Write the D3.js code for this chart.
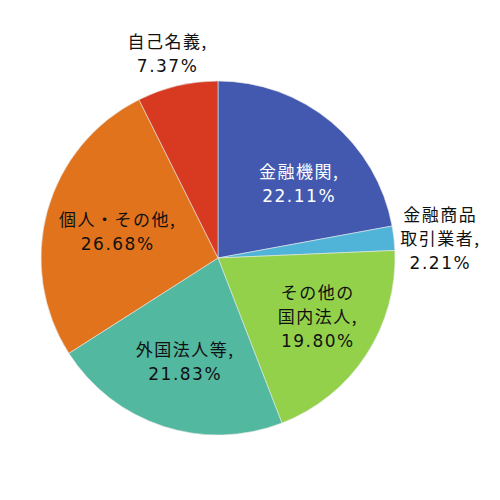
<!DOCTYPE html>
<html>
<head>
<meta charset="utf-8">
<script src="https://cdn.jsdelivr.net/npm/d3@7"></script>
<style>
  body { margin: 0; background: #fff; }
  text { font-family: "Noto Sans CJK JP", "Noto Sans", sans-serif; }
  .num { font-family: "DejaVu Sans", "Noto Sans", sans-serif; }
</style>
</head>
<body>
<div id="pie"></div>
<script>
// shareholder categories, clockwise from 12 o'clock
const categories = ["金融機関", "金融商品取引業者", "その他の国内法人", "外国法人等", "個人・その他", "自己名義"];
const shares = [22.11, 2.21, 19.80, 21.83, 26.68, 7.37];
const labelLines = [
  ["金融機関,", "22.11%"],
  ["金融商品", "取引業者,", "2.21%"],
  ["その他の", "国内法人,", "19.80%"],
  ["外国法人等,", "21.83%"],
  ["個人・その他,", "26.68%"],
  ["自己名義,", "7.37%"]
];
const colors = ["#4359b0", "#4fb4d8", "#93d14b", "#52b89f", "#e1731d", "#d73a21"];

const config = { div: "#pie", width: 500, height: 500, cx: 218, cy: 258, r: 177 };
// label placement: radius of the anchor circle and small nudges
const labelStyle = [
  { rr: 110, dx: 10, dy: 11, fill: "#fff" },
  { rr: 220, dx: 3, dy: 6, fill: "#111" },
  { rr: 110, dx: 7, dy: -1, fill: "#111" },
  { rr: 108, dx: 0, dy: 1, fill: "#111" },
  { rr: 108, dx: 3, dy: 3, fill: "#111" },
  { rr: 210, dx: -3, dy: 0, fill: "#111" }
];

const svg = d3.select(config.div)
  .append("svg")
  .attr("width", config.width)
  .attr("height", config.height);

const g = svg.append("g")
  .attr("transform", `translate(${config.cx},${config.cy})`);

const pie = d3.pie().sort(null).value(d => d.val);
const data = categories.map((c, i) => ({ cat: c, val: shares[i], i: i }));
const arcs = pie(data);

const arc = d3.arc().innerRadius(0).outerRadius(config.r);

g.selectAll("path")
  .data(arcs)
  .enter()
  .append("path")
  .attr("d", arc)
  .attr("fill", d => colors[d.data.i])
  .attr("stroke", "#e8e8e8")
  .attr("stroke-width", 0.6);

const lineH = 24;
const fontSize = 17;
const spacing = 1.5;

arcs.forEach(d => {
  const s = labelStyle[d.data.i];
  const lines = labelLines[d.data.i];
  const c = d3.arc().innerRadius(s.rr).outerRadius(s.rr).centroid(d);
  // letter-spacing leaves a trailing gap, shift by half of it
  const x = c[0] + s.dx + spacing / 2;
  const y0 = c[1] + s.dy - (lines.length - 1) * lineH / 2;
  const t = g.append("text")
    .attr("text-anchor", "middle")
    .attr("font-size", fontSize)
    .attr("letter-spacing", spacing)
    .attr("fill", s.fill);
  lines.forEach((ln, k) => {
    t.append("tspan")
      .attr("class", /%$/.test(ln) ? "num" : null)
      .attr("x", x)
      .attr("y", y0 + k * lineH)
      .attr("dy", "0.35em")
      .text(ln);
  });
});
</script>
</body>
</html>
